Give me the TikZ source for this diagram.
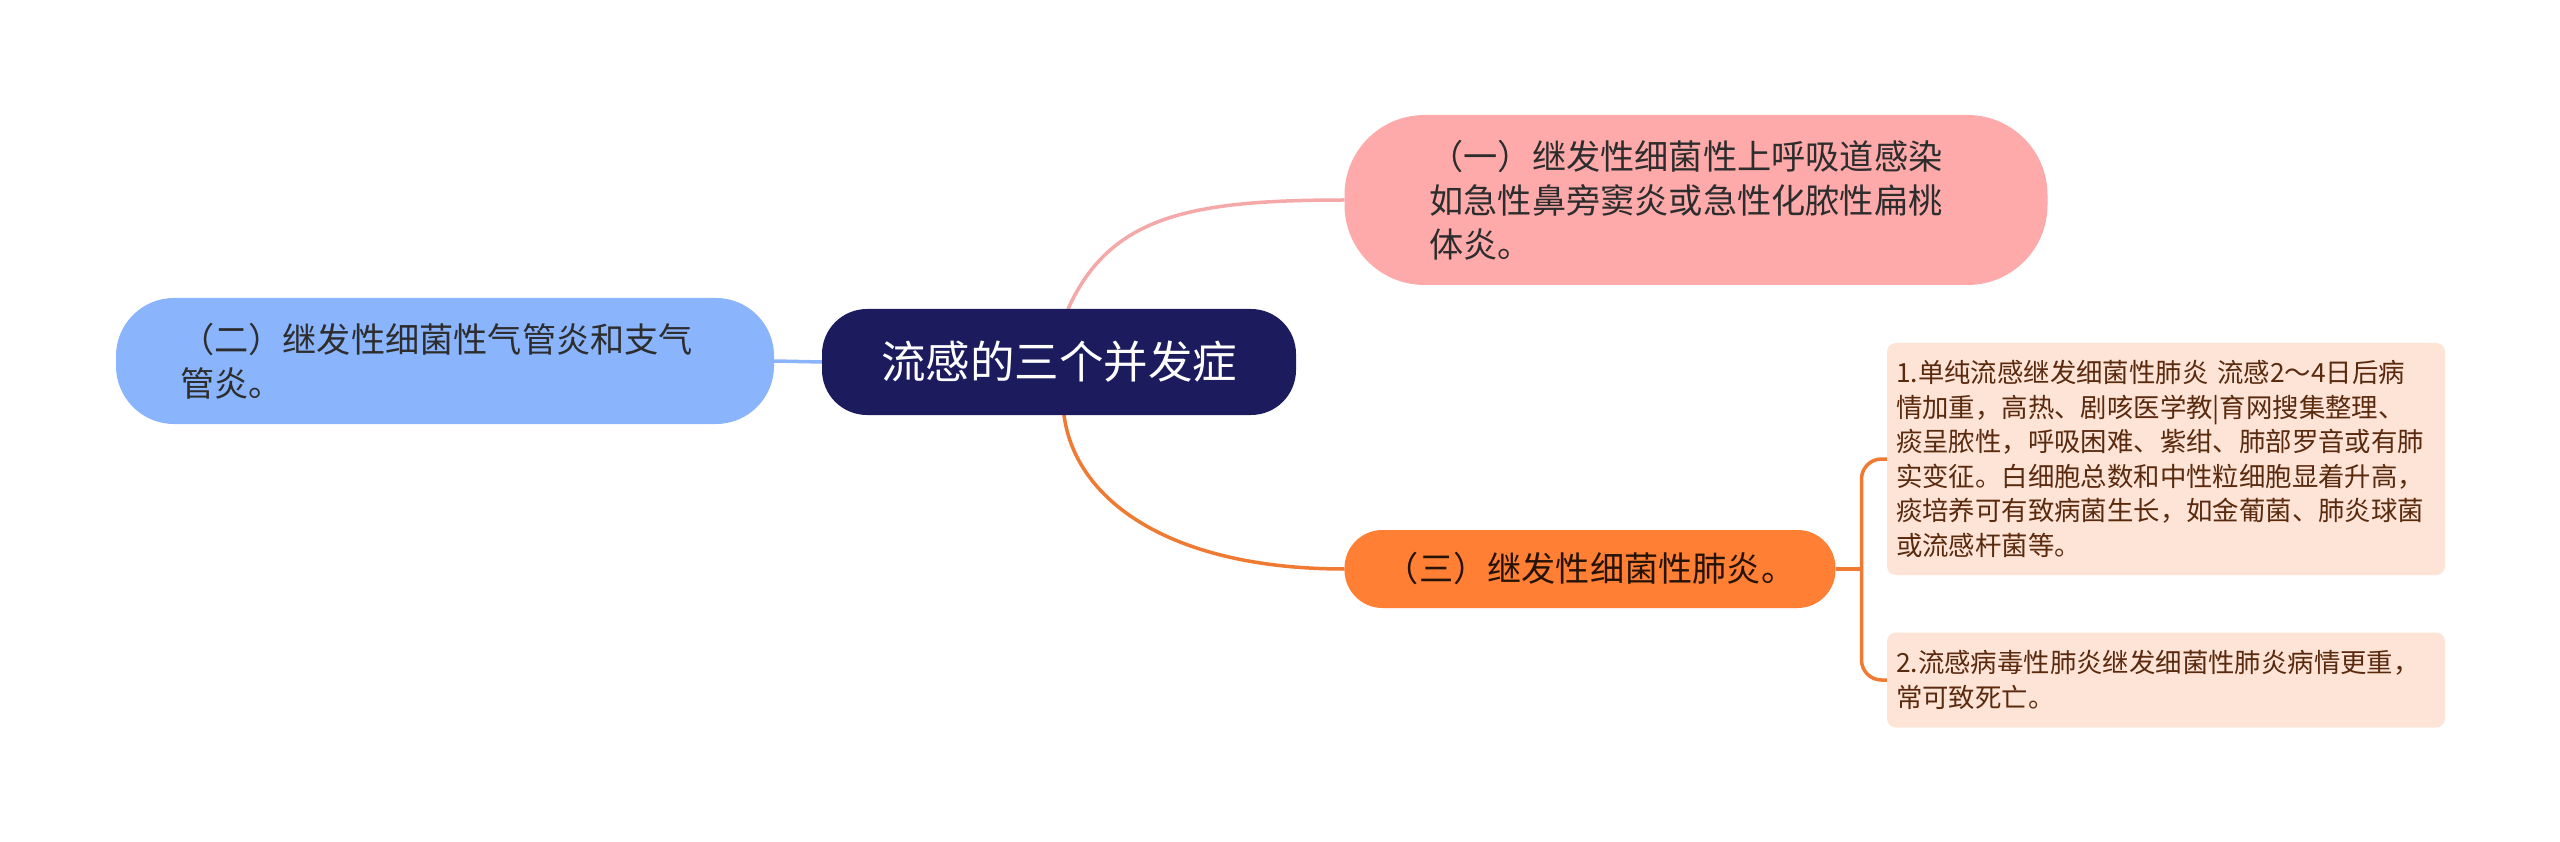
\documentclass[tikz,border=0pt]{standalone}
\usepackage{fontspec}
\setmainfont{Noto Sans CJK SC}
\usetikzlibrary{backgrounds}
\definecolor{navy}{RGB}{28,27,94}
\definecolor{pinkfill}{RGB}{255,170,170}
\definecolor{pinkline}{RGB}{245,168,168}
\definecolor{bluefill}{RGB}{138,180,252}
\definecolor{blueline}{RGB}{138,180,252}
\definecolor{orangefill}{RGB}{255,127,52}
\definecolor{orangeline}{RGB}{240,122,50}
\definecolor{leaffill}{RGB}{253,228,214}
\definecolor{leaftext}{RGB}{90,42,15}
\definecolor{darktext}{RGB}{45,45,45}
\begin{document}
\begin{tikzpicture}[x=1pt,y=-1pt,
  box/.style={inner sep=0pt, outer sep=0pt, align=left},
  central/.style={box, fill=navy, rounded corners=45pt, minimum width=474pt, minimum height=106pt, text=white, font=\fontsize{44.5}{50}\selectfont},
  mainfont/.style={font=\fontsize{34.2}{44}\selectfont, text=darktext},
  pinkbox/.style={box, mainfont, fill=pinkfill, rounded corners=80pt, minimum width=703pt, minimum height=170pt, text width=533pt},
  bluebox/.style={box, mainfont, fill=bluefill, rounded corners=58pt, minimum width=658pt, minimum height=126pt, text width=530pt},
  orangebox/.style={box, mainfont, fill=orangefill, rounded corners=38pt, minimum width=491pt, minimum height=78pt, text=black!85!orangefill},
  leafbox/.style={box, fill=leaffill, rounded corners=9pt, minimum width=558pt, text width=540pt, text=leaftext, font=\fontsize{26.4}{34.5}\selectfont},
  conn/.style={line width=3.5pt},
]
\useasboundingbox (0,0) rectangle (2560,842);

\node[central] (c) at (1059,362) {流感的三个并发症};
\node[pinkbox] (n1) at (1696,200) {（一）继发性细菌性上呼吸道感染\\如急性鼻旁窦炎或急性化脓性扁桃\\体炎。};
\node[bluebox] (n2) at (445,361) {（二）继发性细菌性气管炎和支气\\管炎。};
\node[orangebox] (n3) at (1590,569) {（三）继发性细菌性肺炎。};
\node[leafbox, minimum height=232pt] (l1) at (2166,459) {1.单纯流感继发细菌性肺炎 流感2～4日后病\\情加重，高热、剧咳医学教|育网搜集整理、\\痰呈脓性，呼吸困难、紫绀、肺部罗音或有肺\\实变征。白细胞总数和中性粒细胞显着升高，\\痰培养可有致病菌生长，如金葡菌、肺炎球菌\\或流感杆菌等。};
\node[leafbox, minimum height=95pt] (l2) at (2166,680) {2.流感病毒性肺炎继发细菌性肺炎病情更重，\\常可致死亡。};

\begin{scope}[on background layer]
\fill[white] (0,0) rectangle (2560,842);
\draw[conn, pinkline] ([xshift=9pt]c.north) .. controls +(42,-93) and +(-155,0) .. (n1.west);
\draw[conn, orangeline] ([xshift=5pt]c.south) .. controls +(11,85) and +(-175,0) .. (n3.west);
\draw[conn, blueline] (n2.east) -- (c.west);
\draw[conn, orangeline] (n3.east) -- ++(26,0) coordinate (br);
\draw[conn, orangeline, rounded corners=20pt] (br) |- (l1.west);
\draw[conn, orangeline, rounded corners=20pt] (br) |- (l2.west);
\end{scope}
\end{tikzpicture}
\end{document}
